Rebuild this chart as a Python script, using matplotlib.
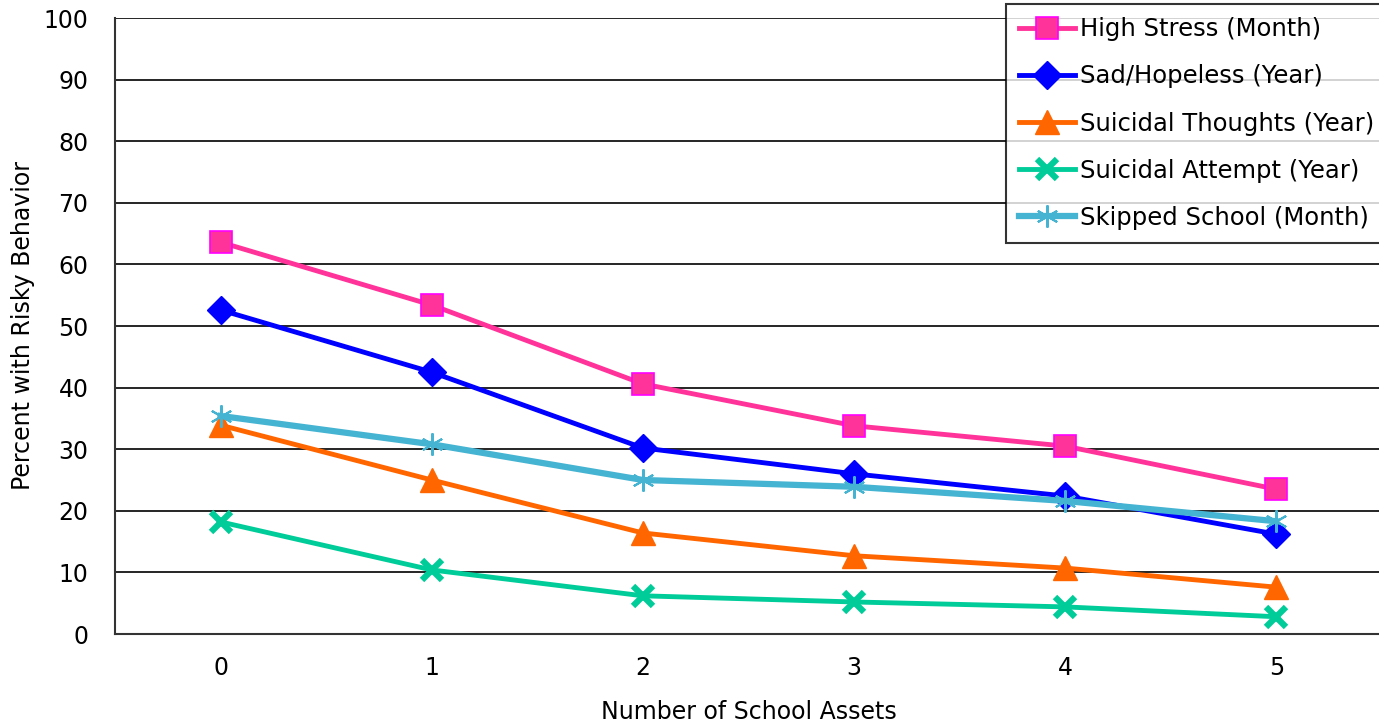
import matplotlib
matplotlib.use("Agg")
import matplotlib.pyplot as plt

assets = [0, 1, 2, 3, 4, 5]
high_stress = [63.6, 53.4, 40.6, 33.8, 30.5, 23.5]
sad_hopeless = [52.6, 42.5, 30.2, 26.0, 22.4, 16.2]
suicidal_thoughts = [33.9, 25.0, 16.4, 12.7, 10.7, 7.6]
suicidal_attempt = [18.2, 10.4, 6.2, 5.2, 4.4, 2.8]
skipped_school = [35.4, 30.8, 25.0, 23.9, 21.6, 18.3]

plt.rcParams['font.family'] = ['DejaVu Sans']

fig = plt.figure(figsize=(13.79, 7.24), dpi=100)
ax = fig.add_axes([115 / 1379, 90 / 724, 1267 / 1379, 616 / 724])

# series
ax.plot(assets, high_stress, color='#FF3399', lw=3.5, marker='s', ms=16,
        mfc='#FF3399', mec='#FF00FF', mew=1.2, label='High Stress (Month)', zorder=3)
ax.plot(assets, sad_hopeless, color='#0000FF', lw=3.5, marker='D', ms=14,
        mfc='#0000FF', mec='#0000FF', label='Sad/Hopeless (Year)', zorder=3)
ax.plot(assets, suicidal_thoughts, color='#FF6600', lw=3.5, marker='^', ms=17,
        mfc='#FF6600', mec='#FF6600', label='Suicidal Thoughts (Year)', zorder=3)
ax.plot(assets, suicidal_attempt, color='#00CC99', lw=3.5, marker='x', ms=15,
        mew=4.5, mec='#00CC99', label='Suicidal Attempt (Year)', zorder=3)
ax.plot(assets, skipped_school, color='#45B3D2', lw=4.5, marker=(6, 2, 0), ms=16,
        mew=1.5, mec='#45B3D2', label='Skipped School (Month)', zorder=3)

ax.set_xlim(-0.5, 5.5)
ax.set_ylim(0, 100)
ax.set_xticks(assets)
ax.set_yticks(range(0, 101, 10))
ax.tick_params(axis='x', length=0, labelsize=17, pad=16)
ax.tick_params(axis='y', length=0, labelsize=17, pad=19)
ax.yaxis.grid(True, color='#000000', lw=1.2)
ax.set_axisbelow(True)
for s in ['top', 'right']:
    ax.spines[s].set_visible(False)
for s in ['left', 'bottom']:
    ax.spines[s].set_color('#333333')
    ax.spines[s].set_linewidth(1.5)

ax.set_xlabel('Number of School Assets', fontsize=17, labelpad=14)
ax.set_ylabel('Percent with Risky Behavior', fontsize=17, labelpad=6)

leg = ax.legend(loc='upper left', bbox_to_anchor=(1006 / 1379, 1 - 4 / 724),
                bbox_transform=fig.transFigure, fontsize=17.5, frameon=True,
                fancybox=False, edgecolor='black', borderpad=0.55,
                labelspacing=0.95, handlelength=2.3, handletextpad=0.2,
                borderaxespad=0)
leg.get_frame().set_linewidth(1.5)

fig.savefig('out.png', dpi=100)
